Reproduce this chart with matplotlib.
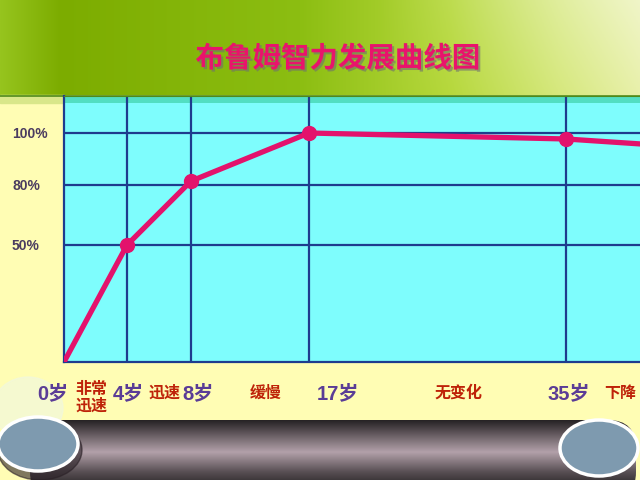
import numpy as np
import matplotlib
matplotlib.use('Agg')
import matplotlib.pyplot as plt
from matplotlib.patches import Ellipse, Rectangle, FancyBboxPatch
import matplotlib.patheffects as pe

plt.rcParams['font.family'] = ['Liberation Sans', 'Noto Sans CJK SC', 'DejaVu Sans']

# data
ages = [0, 4, 8, 17, 35, 40]
iq_pct = [0, 50, 81.5, 100, 97.7, 95.8]
grid_ages = [4, 8, 17, 35]
pct_ticks = [50, 80, 100]
pct_labels = ['50%', '80%', '100%']
age_labels = ['0岁', '4岁', '8岁', '17岁', '35岁']
stage_labels = ['非常\n迅速', '迅速', '缓慢', '无变化', '下降']
title = '布鲁姆智力发展曲线图'

# the slide axis is not linear: knots where the grid lines sit
age_knots = [0, 4, 8, 17, 35, 40]
xpos_knots = [0, 63, 127, 245, 502, 576]
pct_knots = [0, 50, 80, 100, 114.2]
ypos_knots = [0, 117, 177, 229, 266]


def fwd_x(a):
    return np.interp(a, age_knots, xpos_knots)


def inv_x(p):
    return np.interp(p, xpos_knots, age_knots)


def fwd_y(v):
    return np.interp(v, pct_knots, ypos_knots)


def inv_y(p):
    return np.interp(p, ypos_knots, pct_knots)


fig = plt.figure(figsize=(6.4, 4.8), dpi=100)

# ---- slide background ----
bg = fig.add_axes([0, 0, 1, 1], zorder=0)
bg.set_xlim(0, 640)
bg.set_ylim(480, 0)
bg.axis('off')
bg.add_patch(Rectangle((0, 0), 640, 480, color='#FFFDB4', zorder=0))

# green header gradient
xs = np.linspace(0, 640, 320)
ys = np.linspace(0, 95, 48)
hx = [0, 60, 300, 450, 560, 640]
rr = np.interp(xs, hx, [150, 124, 140, 182, 214, 232])
gg = np.interp(xs, hx, [196, 172, 190, 216, 232, 240])
bb = np.interp(xs, hx, [30, 0, 18, 60, 125, 170])
head = np.stack([np.tile(c, (len(ys), 1)) for c in (rr, gg, bb)], axis=-1) / 255.0
fade = np.clip((xs - 380) / 260, 0, 1)[None, :] * (1 - ys[:, None] / 95) * 0.35
head = head + (1 - head) * fade[..., None]
bg.imshow(head, extent=[0, 640, 95, 0], aspect='auto', zorder=1)
bg.add_patch(Rectangle((0, 95), 64, 8, color='#D9E78A', zorder=2))
bg.plot([0, 640], [95.5, 95.5], color='#4E8A1A', lw=1.2, zorder=3)

# soft pale blob bottom left
bg.add_patch(Ellipse((28, 408), 70, 62, color='#F2F8DC', alpha=0.7, zorder=1))

# dark tube at the bottom
tube = FancyBboxPatch((30, 420), 606, 80, boxstyle='round,pad=0,rounding_size=28',
                      facecolor='none', edgecolor='none', zorder=2)
bg.add_patch(tube)
ty = np.linspace(418, 480, 64)
tv = np.interp(ty, [418, 424, 452, 472, 480], [0.12, 0.22, 0.70, 0.35, 0.25])
tube_img = np.stack([tv * 1.0, tv * 0.90, tv * 0.95], axis=-1)[:, None, :]
tube_img = np.repeat(tube_img, 4, axis=1)
im = bg.imshow(tube_img, extent=[30, 636, 480, 418], aspect='auto', zorder=2)
im.set_clip_path(tube)
bg.add_patch(Ellipse((40, 450), 84, 60, color='#2A2026', alpha=0.6, zorder=3))
bg.add_patch(Ellipse((38, 444), 80, 54, facecolor='#7E9AAF', edgecolor='white', lw=2.5, zorder=4))
bg.add_patch(Ellipse((599, 448), 78, 56, facecolor='#7E9AAF', edgecolor='white', lw=2.5, zorder=4))

# ---- chart ----
ax = fig.add_axes([64 / 640, 118 / 480, 576 / 640, 266 / 480], zorder=1)
ax.set_xscale('function', functions=(fwd_x, inv_x))
ax.set_yscale('function', functions=(fwd_y, inv_y))
ax.set_xlim(0, 40)
ax.set_ylim(0, 114.2)
ax.set_facecolor('#7EFDFD')
ax.add_patch(Rectangle((0, 1 - 7 / 266), 1, 7 / 266, transform=ax.transAxes,
                       color='#52DEC2', zorder=0.5, lw=0))

ax.set_xticks(grid_ages)
ax.set_xticks([], minor=True)
ax.set_xticklabels([])
ax.set_yticks(pct_ticks)
ax.set_yticks([], minor=True)
ax.set_yticklabels(pct_labels, fontsize=10, fontweight='bold', color='#4B3C60')
for lbl in ax.get_yticklabels():
    lbl.set_horizontalalignment('left')
ax.tick_params(axis='both', length=0)
ax.tick_params(axis='y', pad=37.4)
ax.grid(True, color='#1E3C8E', lw=1.6)
ax.set_axisbelow(True)
ax.spines['right'].set_visible(False)
ax.spines['top'].set_color('#4E8A1A')
ax.spines['left'].set_color('#1E3C8E')
ax.spines['bottom'].set_color('#1E3C8E')
ax.spines['left'].set_linewidth(1.6)
ax.spines['bottom'].set_linewidth(1.6)

ax.plot(ages, iq_pct, color='#E3126C', lw=3.8, marker='o', markersize=10,
        markevery=[1, 2, 3, 4], solid_capstyle='round', zorder=3)

# ---- texts ----
fig.text(338 / 640, 1 - 59 / 480, title, fontsize=20.5, fontweight='bold',
         color='#E8146C', family=['Noto Sans CJK SC', 'DejaVu Sans'],
         ha='center', va='center',
         path_effects=[pe.withSimplePatchShadow(offset=(1.5, -1.5), shadow_rgbFace='#707070', alpha=0.6)])

age_x = [53, 128, 198, 338, 569]
for x, t in zip(age_x, age_labels):
    fig.text(x / 640, 1 - 394 / 480, t, fontsize=14.5, fontweight='bold',
             color='#5A3C96', ha='center', va='center')

stage_x = [91, 164, 266, 459, 620]
stage_y = [397, 393, 393, 393, 393]
for x, y, t in zip(stage_x, stage_y, stage_labels):
    fig.text(x / 640, 1 - y / 480, t, fontsize=11.5, fontweight='bold',
             color='#BE2208', ha='center', va='center',
             family=['Noto Sans CJK SC', 'DejaVu Sans'], linespacing=1.05)

fig.savefig('out.png', dpi=100)
